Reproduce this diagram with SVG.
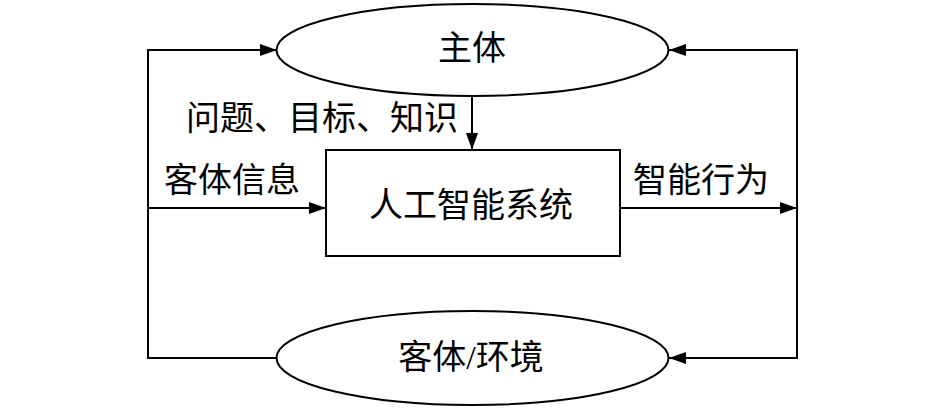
<svg xmlns="http://www.w3.org/2000/svg" width="945" height="409" viewBox="0 0 945 409">
<style>
.s{fill:none;stroke:#000;stroke-width:2}
.n{fill:#fff;stroke:#000;stroke-width:2}
.t{font-family:"Liberation Serif","Noto Sans CJK SC",serif;font-size:34px;fill:#000}
.c{text-anchor:middle}
</style>
<defs>
<marker id="a" markerWidth="17" markerHeight="12" refX="17" refY="6" orient="auto" markerUnits="userSpaceOnUse">
<path d="M0,0 L17,6 L0,12 Z" fill="#000"/>
</marker>
</defs>
<rect width="945" height="409" fill="#fff"/>
<g id="connectors">
<path class="s" d="M277,358 L148,358 L148,50 L277,50" marker-end="url(#a)"/>
<path class="s" d="M797,208 L797,50 L669,50" marker-end="url(#a)"/>
<path class="s" d="M797,208 L797,358 L669,358" marker-end="url(#a)"/>
<path class="s" d="M472,96 L472,150" marker-end="url(#a)"/>
<path class="s" d="M148,208 L326,208" marker-end="url(#a)"/>
<path class="s" d="M620,208 L797,208" marker-end="url(#a)"/>
<text class="t" x="186" y="130">问题、目标、知识</text>
<text class="t" x="164" y="192">客体信息</text>
<text class="t" x="633" y="192">智能行为</text>
</g>
<g id="subject">
<ellipse class="n" cx="472.5" cy="50" rx="196" ry="46"/>
<text class="t c" x="472" y="60">主体</text>
</g>
<g id="ai-system">
<rect class="n" x="326" y="150" width="294" height="106"/>
<text class="t c" x="471" y="217">人工智能系统</text>
</g>
<g id="object-env">
<ellipse class="n" cx="472.5" cy="358" rx="196" ry="47"/>
<text class="t c" x="471" y="369">客体/环境</text>
</g>
</svg>
